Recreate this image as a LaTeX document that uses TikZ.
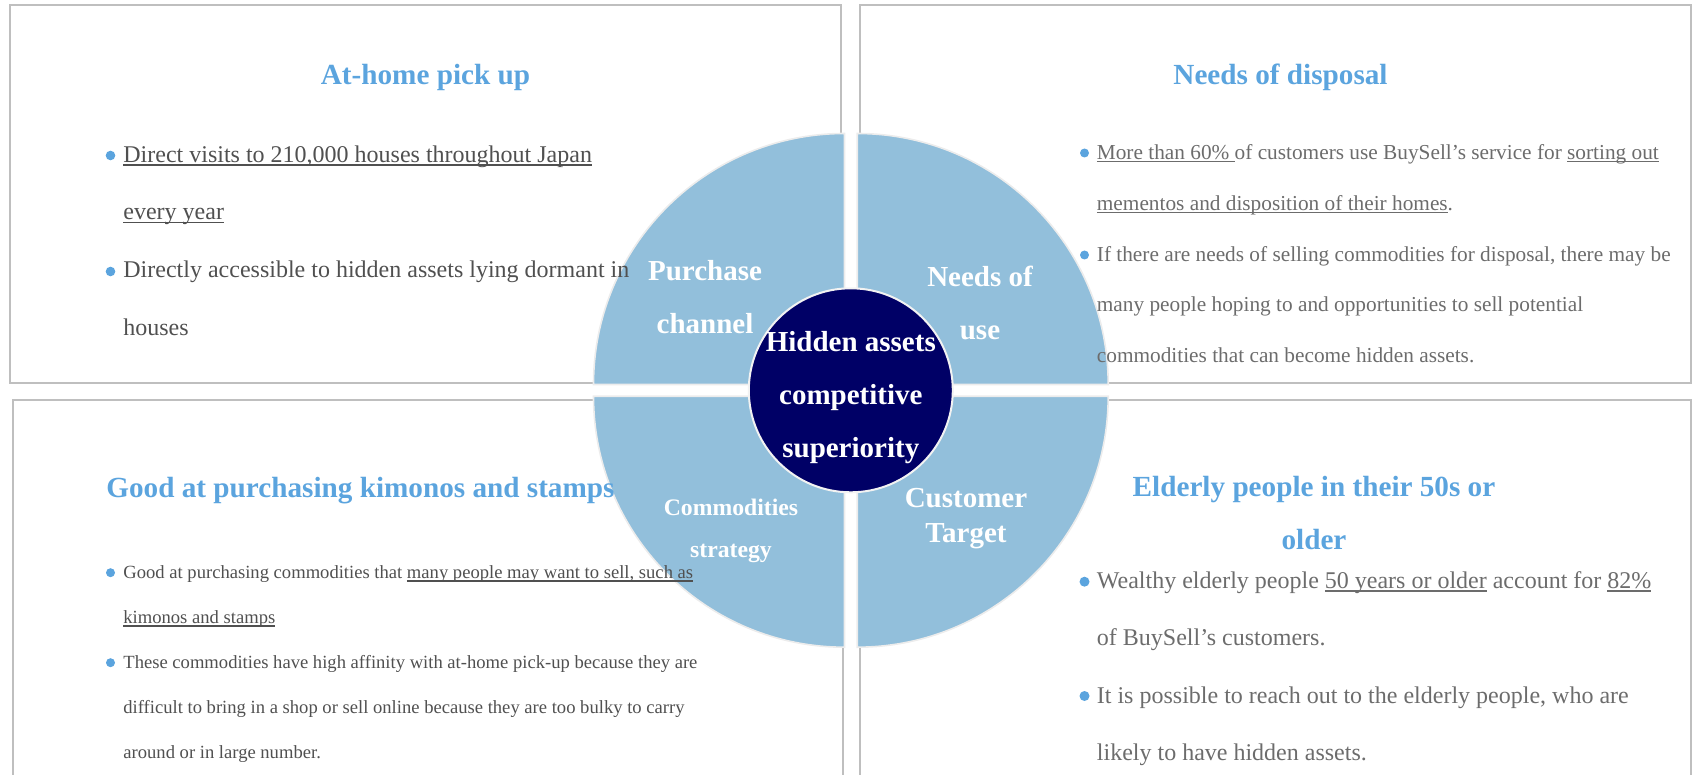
\documentclass[tikz,border=0pt]{standalone}
\usepackage{fontspec}
\setmainfont{Liberation Serif}
\usepackage{tikz}

\definecolor{framegray}{RGB}{191,191,191}
\definecolor{wheelblue}{RGB}{146,191,219}
\definecolor{wheeledge}{RGB}{236,236,236}
\definecolor{hubnavy}{RGB}{0,0,102}
\definecolor{hubedge}{RGB}{242,242,242}
\definecolor{headblue}{RGB}{91,164,222}
\definecolor{inkdark}{RGB}{80,80,80}
\definecolor{inklight}{RGB}{108,108,108}

% plain underline at a fixed depth
\newsavebox\ulinebox
\newcommand{\uln}[1]{\leavevmode\sbox\ulinebox{#1}\rlap{\rule[-1.6pt]{\wd\ulinebox}{0.7pt}}\usebox\ulinebox}

\begin{document}
\begin{tikzpicture}[x=0.5pt, y=-0.5pt,
    frame/.style={draw=framegray, line width=1pt},
    quarter/.style={fill=wheelblue, draw=wheeledge, line width=0.8pt},
    hub/.style={circle, fill=hubnavy, draw=hubedge, line width=1pt, minimum size=102pt, inner sep=0pt},
    heading/.style={font=\fontsize{14.6}{26.5}\selectfont\bfseries, text=headblue, inner sep=0pt, align=center, anchor=base},
    para/.style={inner sep=0pt, anchor=base west, align=left},
    wheeltext/.style={font=\fontsize{14.5}{26.5}\selectfont\bfseries, text=white, inner sep=0pt, align=center, anchor=base},
    blob/.style={fill=headblue}]

\useasboundingbox (0,0) rectangle (1698,775);

% draw the four frames
\draw[frame] (10,5) rectangle (841,383);
\draw[frame] (860,5) rectangle (1691,383);
\draw[frame] (13,775) -- (13,400) -- (843,400) -- (843,775);
\draw[frame] (860,775) -- (860,400) -- (1691,400) -- (1691,775);

% draw the wheel quarters
\filldraw[quarter] (844.5,384.5) -- ++(180:251) arc [radius=251, start angle=180, end angle=270] -- cycle;
\filldraw[quarter] (857.2,384.5) -- ++(270:251) arc [radius=251, start angle=270, end angle=360] -- cycle;
\filldraw[quarter] (857.2,396.2) -- ++(0:251) arc [radius=251, start angle=0, end angle=90] -- cycle;
\filldraw[quarter] (844.5,396.2) -- ++(90:251) arc [radius=251, start angle=90, end angle=180] -- cycle;

% draw hub (text nodes sit on the baseline of their last line)
\node[hub] (hub) at (850.8,390.3) {};
\node[wheeltext] (hubtext) at (850.8,457) {Hidden assets\\competitive\\superiority};

% draw quarter labels
\node[wheeltext] (purchase) at (705,334) {Purchase\\channel};
\node[wheeltext] (needs) at (980,340) {Needs of\\use};
\node[wheeltext, font=\fontsize{11.85}{21}\selectfont\bfseries] (commod) at (731,557) {Commodities\\strategy};
\node[wheeltext, font=\fontsize{14.5}{17.2}\selectfont\bfseries] (target) at (966,542) {Customer\\Target};

% top left box
\node[heading] (pickup) at (425.5,85) {At-home pick up};
\fill[blob] (110.5,155.5) circle (4.8);
\fill[blob] (110.5,271.5) circle (4.8);
\node[para, text=inkdark, font=\fontsize{12}{28.75}\selectfont] (visits) at (123,220)
  {\uln{Direct visits to 210,000 houses throughout Japan}\\\uln{every year}};
\node[para, text=inkdark, font=\fontsize{12}{28.75}\selectfont] (dormant) at (123,335.5)
  {Directly accessible to hidden assets lying dormant in\\houses};

% top right box
\node[heading] (disposal) at (1280.5,85) {Needs of disposal};
\fill[blob] (1084.5,153) circle (4.5);
\fill[blob] (1084.5,255) circle (4.5);
\node[para, text=inklight, font=\fontsize{10.65}{25.5}\selectfont] (sixty) at (1096.5,210.3)
  {\uln{More than 60\% }of customers use BuySell’s service for \uln{sorting out}\\\uln{mementos and disposition of their homes}.};
\node[para, text=inklight, font=\fontsize{10.65}{25.5}\selectfont] (selling) at (1096.5,363)
  {If there are needs of selling commodities for disposal, there may be\\many people hoping to and opportunities to sell potential\\commodities that can become hidden assets.};

% bottom left box
\node[heading, anchor=base west] (kimonos) at (106,497) {Good at purchasing kimonos and stamps};
\fill[blob] (110.5,572.7) circle (4.5);
\fill[blob] (110.5,662.7) circle (4.5);
\node[para, text=inkdark, font=\fontsize{9.3}{22.5}\selectfont] (goodat) at (123,623.3)
  {Good at purchasing commodities that \uln{many people may want to sell, such as}\\\uln{kimonos and stamps}};
\node[para, text=inkdark, font=\fontsize{9.3}{22.5}\selectfont] (affinity) at (123,758.3)
  {These commodities have high affinity with at-home pick-up because they are\\difficult to bring in a shop or sell online because they are too bulky to carry\\around or in large number.};

% bottom right box
\node[heading] (elderly) at (1314,549) {Elderly people in their 50s or\\older};
\fill[blob] (1084.5,581.7) circle (5);
\fill[blob] (1084.5,696) circle (5);
\node[para, text=inklight, font=\fontsize{12}{28.5}\selectfont] (wealthy) at (1096.5,645.5)
  {Wealthy elderly people \uln{50 years or older} account for \uln{82\%}\\of BuySell’s customers.};
\node[para, text=inklight, font=\fontsize{12}{28.5}\selectfont] (reach) at (1096.5,760)
  {It is possible to reach out to the elderly people, who are\\likely to have hidden assets.};

\end{tikzpicture}
\end{document}
